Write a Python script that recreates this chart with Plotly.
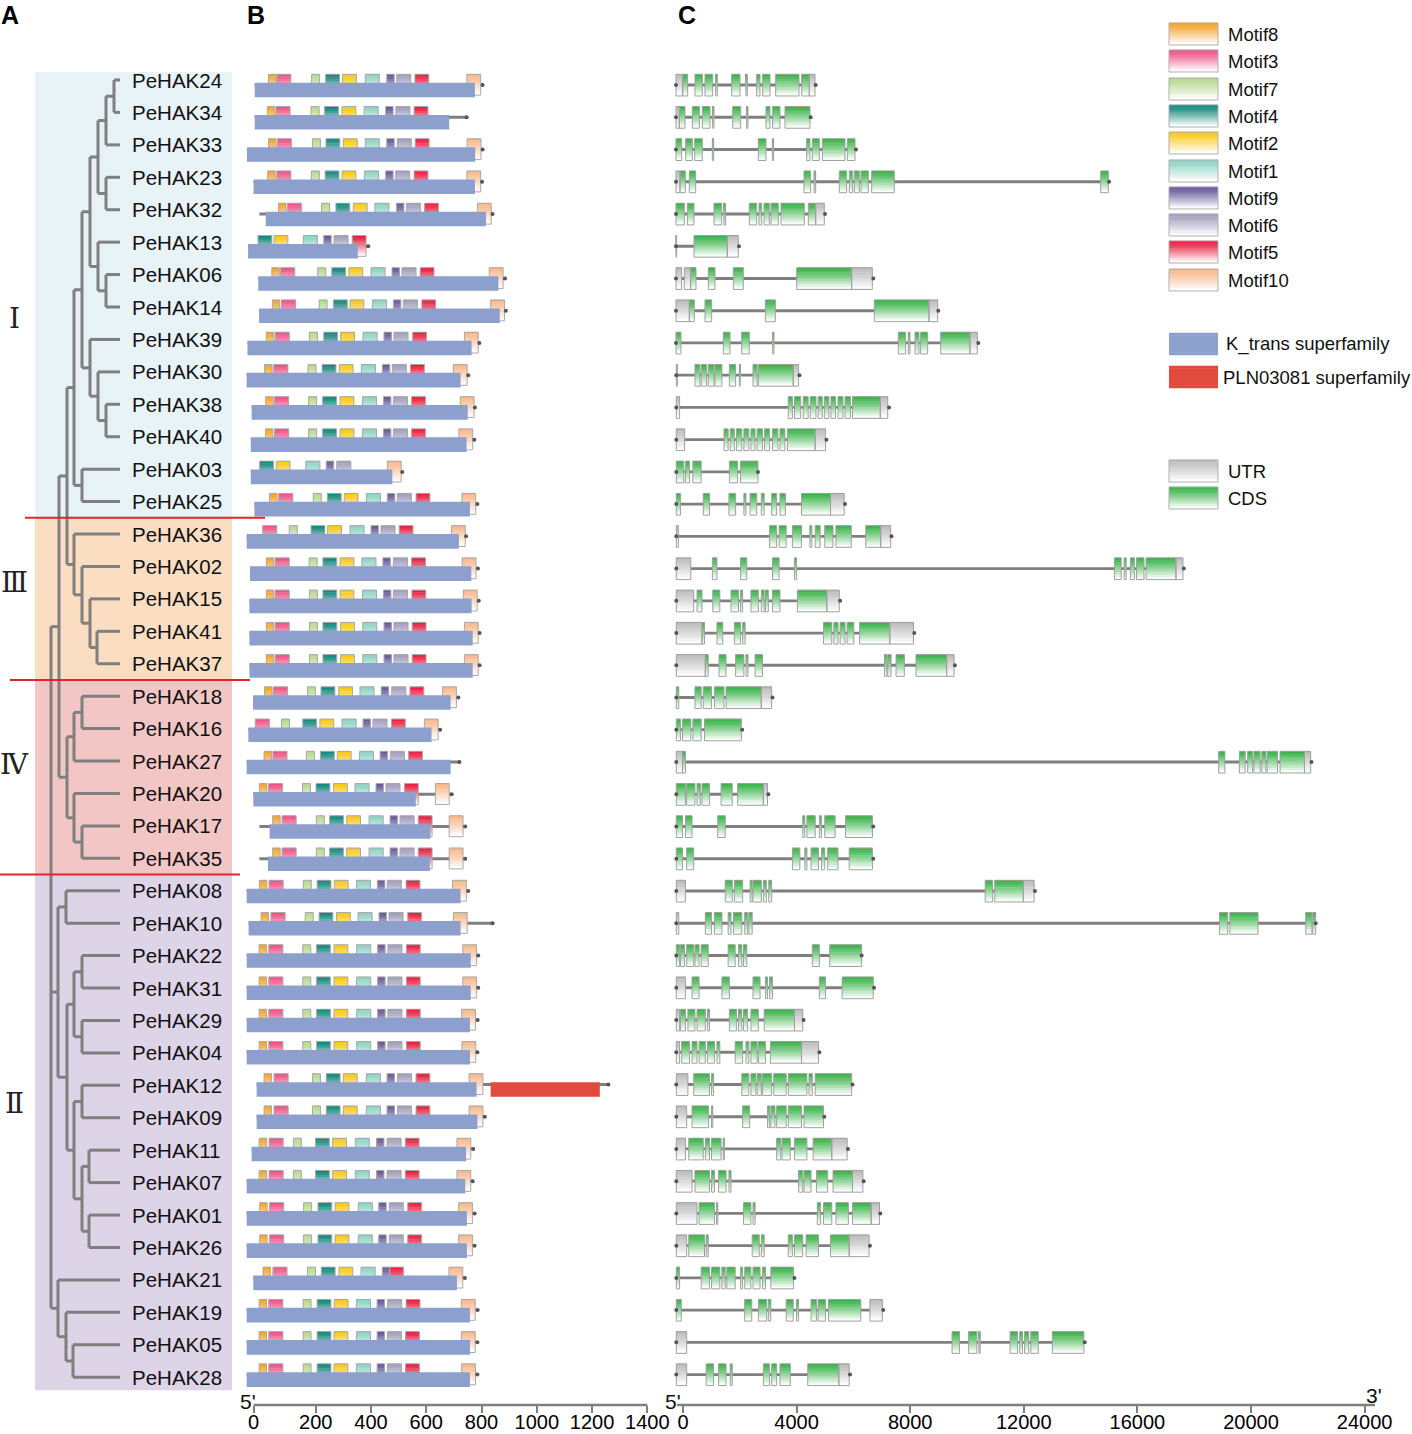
import plotly.graph_objects as go

W, H = 1412, 1434

GENES = ["PeHAK24", "PeHAK34", "PeHAK33", "PeHAK23", "PeHAK32", "PeHAK13", "PeHAK06", "PeHAK14",
         "PeHAK39", "PeHAK30", "PeHAK38", "PeHAK40", "PeHAK03", "PeHAK25", "PeHAK36", "PeHAK02",
         "PeHAK15", "PeHAK41", "PeHAK37", "PeHAK18", "PeHAK16", "PeHAK27", "PeHAK20", "PeHAK17",
         "PeHAK35", "PeHAK08", "PeHAK10", "PeHAK22", "PeHAK31", "PeHAK29", "PeHAK04", "PeHAK12",
         "PeHAK09", "PeHAK11", "PeHAK07", "PeHAK01", "PeHAK26", "PeHAK21", "PeHAK19", "PeHAK05",
         "PeHAK28"]

# ---------------- Panel A : tree ----------------
TIP_X = 120
NODE_NAMES = ["n1", "n2", "n3", "n4", "n5", "n6", "n7", "n8", "n9", "n10", "n11", "n12", "n13",
              "n14", "n15", "n16", "n17", "n18", "n19", "n20", "n21", "n22", "n23", "n24", "n25",
              "n26", "n27", "n28", "n29", "n30", "n31", "n32", "n33", "n34", "n35", "n36", "n37",
              "n38", "root"]
NODE_X = [114, 106, 106, 98, 106, 98, 90, 106, 98, 90, 82, 82, 74,
          97, 90, 82, 74, 67, 82, 74, 82, 74, 67, 59, 66,
          82, 82, 74, 82, 89, 89, 82, 74, 67, 58, 73, 66, 58, 51]
NODE_CHILDREN = [["PeHAK24", "PeHAK34"], ["n1", "PeHAK33"], ["PeHAK23", "PeHAK32"], ["n2", "n3"],
                 ["PeHAK06", "PeHAK14"], ["PeHAK13", "n5"], ["n4", "n6"], ["PeHAK38", "PeHAK40"],
                 ["PeHAK30", "n8"], ["PeHAK39", "n9"], ["n7", "n10"], ["PeHAK03", "PeHAK25"],
                 ["n11", "n12"], ["PeHAK41", "PeHAK37"], ["PeHAK15", "n14"], ["PeHAK02", "n15"],
                 ["PeHAK36", "n16"], ["n13", "n17"], ["PeHAK18", "PeHAK16"], ["n19", "PeHAK27"],
                 ["PeHAK17", "PeHAK35"], ["PeHAK20", "n21"], ["n20", "n22"], ["n18", "n23"],
                 ["PeHAK08", "PeHAK10"], ["PeHAK22", "PeHAK31"], ["PeHAK29", "PeHAK04"], ["n26", "n27"],
                 ["PeHAK12", "PeHAK09"], ["PeHAK11", "PeHAK07"], ["PeHAK01", "PeHAK26"], ["n30", "n31"],
                 ["n29", "n32"], ["n28", "n33"], ["n25", "n34"], ["PeHAK05", "PeHAK28"],
                 ["PeHAK19", "n36"], ["PeHAK21", "n37"], ["n24", "n35", "n38"]]

GROUP_LABELS = ["Ⅰ", "Ⅲ", "Ⅳ", "Ⅱ"]
GROUP_TOP_ROW = [-0.25, 13.5, 18.5, 24.5]
GROUP_BOTTOM_ROW = [13.5, 18.5, 24.5, 40.4]
GROUP_LABEL_ROW = [7.34, 15.48, 21.12, 31.55]
GROUP_COLORS = ["#E7F3F7", "#FBDEC2", "#F3C6C6", "#DDD4E8"]
SEP_ROWS = [13.5, 18.5, 24.5]
SEP_X0 = [25, 10, 0]
SEP_X1 = [265, 250, 240]

# ---------------- Panel B : motifs (aa) ----------------
MOTIF_NAMES = ["Motif8", "Motif3", "Motif7", "Motif4", "Motif2", "Motif1", "Motif9", "Motif6", "Motif5", "Motif10"]
MOTIF_COLORS = ["#F4A42C", "#EC5486", "#B6D98F", "#13877C", "#F9C918", "#8FD3C5", "#66589A", "#A19FBD", "#E81E3E", "#F8B88B"]
MOTIF_WIDTHS = [27, 51, 29, 50, 50, 51, 27, 51, 50, 50]

M8 = [29, 25, 29, 26, 65, None, 41, 43, 21, 15, 19, 18, None, 33, None, 21, 21, 21, 21, 15, None, 13, -4, 44, 44,
      -4, 2, -5, -5, -5, -5, 13, 13, -5, -5, -3, -3, 9, -5, -5, -5]
M3 = [59, 56, 61, 59, 97, None, 73, 76, 53, 48, 51, 51, None, 66, 8, 53, 53, 53, 53, 47, -19, 45, 29, 78, 78,
      31, 38, 30, 30, 30, 30, 49, 49, 31, 31, 33, 33, 45, 30, 30, 30]
M7 = [185, 183, 188, 184, 221, None, 207, 212, 177, 172, 174, 174, None, 191, 104, 176, 177, 177, 177, 170, 76, 166,
      152, 202, 202, 155, 162, 153, 153, 153, 153, 188, 188, 119, 119, 156, 156, 170, 154, 154, 154]
M4 = [236, 232, 237, 234, 273, -9, 258, 264, 229, 223, 225, 225, -3, 242, 183, 226, 226, 226, 226, 219, 153, 217,
      201, 250, 250, 205, 212, 203, 203, 203, 203, 238, 238, 199, 199, 208, 208, 220, 205, 205, 205]
M2 = [297, 295, 300, 295, 336, 49, 320, 324, 290, 285, 288, 288, 57, 303, 243, 288, 288, 290, 290, 283, 215, 278,
      264, 312, 312, 267, 275, 266, 266, 266, 266, 300, 300, 261, 261, 270, 270, 284, 267, 266, 266]
M1 = [379, 375, 379, 376, 414, 155, 400, 405, 371, 365, 369, 369, 164, 383, 324, 367, 369, 370, 370, 360, 295, 358,
      342, 393, 393, 347, 353, 348, 348, 348, 348, 383, 383, 343, 343, 354, 354, 364, 347, 347, 347]
M9 = [457, 453, 457, 453, 492, 229, 476, 481, 447, 441, 445, 445, 238, 459, 400, 443, 445, 447, 447, 437, 371, 433,
      418, 469, 469, 423, 429, 424, 424, 424, 424, 458, 458, 420, 420, 428, 428, 441, 422, 422, 422]
M6 = [493, 490, 495, 489, 528, 266, 512, 517, 483, 477, 481, 481, 276, 495, 436, 481, 481, 483, 483, 475, 407, 470,
      454, 505, 505, 459, 465, 461, 461, 461, 461, 496, 496, 458, 458, 466, 466, None, 460, 459, 459]
M5 = [559, 556, 560, 556, 594, 332, 578, 584, 551, 543, 547, 547, None, 563, 502, 547, 548, 549, 549, 541, 474, 536,
      521, 571, 571, 527, 533, 528, 528, 528, 528, 563, 563, 524, 524, 533, 533, 467, 527, 525, 525]
M10 = [747, None, 748, 747, 785, None, 828, 833, 738, 698, 723, 718, 459, 729, 691, 730, 734, 738, 738, 659, 593, None,
       633, 683, 683, 695, 698, 732, 732, 728, 729, 755, 755, 711, 711, 717, 717, 682, 727, 727, 728]

KT_START = [-21, -21, -49, -25, 19, -45, -8, -5, -47, -50, -32, -35, -35, -22, -50, -38, -40, -40, -40, -27, -44, -50,
            -26, 33, 27, -50, -43, -50, -50, -50, -50, -14, -14, -32, -50, -50, -50, -26, -50, -50, -50]
KT_END = [776, 683, 777, 776, 816, 352, 861, 866, 764, 724, 750, 746, 477, 758, 718, 763, 764, 768, 768, 688, 619, 688,
          562, 615, 613, 724, 724, 761, 761, 758, 758, 782, 785, 744, 741, 747, 747, 711, 758, 758, 758]
PROT_START = [-21, -21, -49, -25, -4, -45, -8, -5, -47, -50, -32, -35, -35, -22, -50, -38, -40, -40, -40, -27, -44, -50,
              -26, -4, -4, -50, -43, -50, -50, -50, -50, -14, -14, -32, -50, -50, -50, -26, -50, -50, -50]
PROT_END = [804, 746, 804, 802, 840, 390, 885, 888, 792, 752, 776, 774, 513, 785, 744, 787, 790, 793, 793, 716, 650, 720,
            692, 741, 741, 752, 840, 788, 788, 786, 785, 1259, 812, 770, 768, 775, 775, 740, 786, 785, 785]
PLN_ROW = [31]
PLN_START = [833]
PLN_END = [1228]

B_TICKS_AT = [-25, 200, 400, 600, 800, 1000, 1200, 1400]
B_TICK_TEXT = ["0", "200", "400", "600", "800", "1000", "1200", "1400"]

# ---------------- Panel C : gene structure (bp) ----------------
GENE_START = [-247, -247, -247, -247, -247, -247, -247, -247, -247, -236, -236, -236, -236, -236, -236, -236,
              -236, -236, -236, -236, -236, -236, -236, -236, -236, -236, -236, -236, -236, -236, -236, -236,
              -236, -236, -236, -236, -236, -236, -236, -236, -236]
GENE_END = [4671, 4495, 6091, 15000, 5000, 1972, 6702, 8990, 10399, 4100, 7254, 5049, 2640, 5706, 7341, 17634,
            5531, 8144, 9575, 3151, 2085, 22131, 3005, 6699, 6699, 12393, 22277, 6290, 6728, 4246, 4801, 5969,
            4976, 5808, 6363, 6947, 6582, 3925, 7050, 14145, 5881]
UTR_EXONS = [
    [(-247, -12), (4448, 4648)],
    [(-247, -129)],
    [],
    [(-247, -106)],
    [(4671, 4976)],
    [(-247, -225), (1561, 1948)],
    [(-247, -47), (47, 270), (5939, 6667)],
    [(-247, 223), (8662, 8967)],
    [(10105, 10363)],
    [(-236, -200), (3881, 4070)],
    [(-236, -119), (6947, 7210)],
    [(-236, 56), (4655, 5020)],
    [],
    [(5195, 5677)],
    [(-236, -163), (6962, 7312)],
    [(-236, 275), (17357, 17605)],
    [(-236, 377), (5064, 5502)],
    [(-236, 669), (7283, 8115)],
    [(-236, 786), (9283, 9546)],
    [(2757, 3122)],
    [],
    [(-236, -17), (21883, 22102)],
    [(2830, 2976)],
    [],
    [],
    [(-236, 85), (11984, 12364)],
    [(-236, -148)],
    [],
    [(-236, 85)],
    [(-236, -119), (3925, 4217)],
    [(-236, -119), (4173, 4772)],
    [(-236, 173)],
    [(-236, 129)],
    [(-236, 85), (5239, 5779)],
    [(-236, 319), (5969, 6334)],
    [(-236, 494), (6626, 6918)],
    [(-236, 129), (5852, 6553)],
    [],
    [(6582, 7020)],
    [(-236, 129)],
    [(-236, 129), (5487, 5852)],
]
CDS_EXONS = [
    [(-12, 164), (422, 681), (775, 1044), (1150, 1209), (1713, 2007), (2218, 2265), (2594, 2711), (2805, 3063), (3263, 4084), (4178, 4448)],
    [(-129, 70), (329, 575), (681, 951), (1044, 1091), (1749, 2030), (2241, 2288), (2922, 3063), (3157, 3415), (3591, 4471)],
    [(-247, -47), (94, 329), (411, 681), (1033, 1080), (2652, 2922), (3145, 3192), (4354, 4471), (4554, 4800), (4906, 5704), (5786, 6056)],
    [(-106, 82), (223, 446), (4260, 4495), (4613, 4671), (5505, 5763), (5857, 5974), (6033, 6209), (6267, 6526), (6643, 7441), (14707, 14977)],
    [(-247, 47), (153, 387), (1091, 1361), (1443, 1502), (2335, 2594), (2676, 2770), (2852, 3040), (3098, 3357), (3450, 4272), (4413, 4671)],
    [(387, 1561)],
    [(270, 458), (892, 1127), (1772, 2124), (4002, 5939)],
    [(223, 399), (775, 1009), (2899, 3251), (6737, 8662)],
    [(-247, -71), (1420, 1655), (2066, 2335), (3157, 3204), (7582, 7840), (7934, 7993), (8169, 8310), (8369, 8615), (9073, 10105)],
    [(421, 596), (640, 830), (888, 1093), (1122, 1370), (1632, 1852), (1983, 2013), (2465, 2611), (2655, 3881)],
    [(3706, 3852), (3925, 4144), (4232, 4407), (4480, 4684), (4757, 4903), (4976, 5137), (5210, 5370), (5458, 5633), (5706, 5896), (5969, 6947)],
    [(1443, 1589), (1662, 1808), (1881, 2071), (2144, 2319), (2392, 2538), (2611, 2801), (2874, 3049), (3151, 3341), (3414, 3589), (3677, 4655)],
    [(-236, 27), (85, 231), (348, 640), (1633, 1925), (2027, 2640)],
    [(-236, -90), (713, 932), (1618, 1852), (2144, 2217), (2363, 2596), (2757, 2859), (3122, 3297), (3414, 3604), (4173, 5195)],
    [(3049, 3297), (3385, 3633), (3852, 4173), (4465, 4538), (4655, 4830), (4991, 5283), (5385, 5925), (6436, 6962)],
    [(1034, 1195), (2027, 2246), (3151, 3385), (3925, 3998), (15196, 15430), (15532, 15605), (15751, 15897), (15970, 16233), (16306, 17357)],
    [(494, 669), (1049, 1297), (1691, 1954), (2027, 2100), (2392, 2655), (2757, 2859), (2903, 3005), (3151, 3414), (4027, 5064)],
    [(669, 757), (1195, 1399), (1808, 2027), (2100, 2188), (4947, 5239), (5312, 5458), (5531, 5706), (5779, 6013), (6217, 7283)],
    [(786, 888), (1268, 1516), (1852, 2144), (2217, 2290), (2538, 2801), (7093, 7181), (7210, 7327), (7502, 7794), (8203, 9283)],
    [(-236, -148), (421, 640), (713, 1005), (1107, 1443), (1516, 2757)],
    [(-236, -90), (-17, 275), (348, 640), (757, 2056)],
    [(-17, 85), (18861, 19080), (19591, 19795), (19883, 20058), (20102, 20321), (20379, 20525), (20569, 20934), (21022, 21883)],
    [(-236, 85), (129, 421), (494, 611), (669, 932), (1341, 1735), (1925, 2830)],
    [(-236, -17), (85, 319), (1224, 1487), (4217, 4290), (4363, 4655), (4801, 4874), (4991, 5356), (5721, 6670)],
    [(-236, -17), (129, 377), (3852, 4115), (4290, 4363), (4509, 4772), (4874, 4991), (5093, 5458), (5852, 6670)],
    [(1487, 1735), (1808, 2100), (2363, 2436), (2465, 2757), (2830, 2932), (3020, 3122), (10641, 10904), (10977, 11984)],
    [(786, 1005), (1107, 1370), (1589, 1691), (1779, 2071), (2173, 2275), (2319, 2436), (18890, 19182), (19255, 20248), (21927, 22146), (22175, 22277)],
    [(-236, -119), (-90, 56), (129, 377), (421, 567), (640, 888), (1589, 1837), (1954, 2071), (2129, 2246), (4553, 4801), (5166, 6290)],
    [(319, 567), (1370, 1633), (2465, 2713), (2903, 2976), (3049, 3151), (4801, 5020), (5604, 6699)],
    [(-90, 85), (173, 421), (494, 786), (859, 932), (1633, 1881), (1954, 2071), (2129, 2275), (2392, 2655), (2859, 3925)],
    [(-46, 231), (319, 494), (567, 786), (859, 1107), (1195, 1297), (1837, 2100), (2217, 2319), (2392, 2611), (2655, 2903), (3078, 4173)],
    [(377, 932), (1005, 1078), (2071, 2319), (2392, 2567), (2611, 2757), (2801, 3122), (3195, 3633), (3706, 4363), (4436, 4553), (4655, 5940)],
    [(319, 903), (1005, 1049), (2100, 2348), (2976, 3049), (3093, 3239), (3297, 3633), (3706, 4173), (4261, 4947)],
    [(202, 713), (786, 932), (1005, 1341), (1414, 1458), (3297, 3443), (3487, 3779), (3925, 4363), (4582, 5239)],
    [(421, 932), (1005, 1107), (1253, 1516), (1618, 1691), (4071, 4217), (4261, 4509), (4699, 5093), (5283, 5969)],
    [(567, 1107), (1180, 1224), (2129, 2392), (2465, 2538), (4728, 4845), (4947, 5239), (5385, 5823), (5969, 6626)],
    [(202, 757), (815, 888), (2436, 2684), (2757, 2859), (3706, 3852), (3925, 4217), (4334, 4772), (5195, 5852)],
    [(-236, -119), (640, 932), (1005, 1297), (1370, 1487), (1545, 1837), (2027, 2100), (2173, 2392), (2465, 2713), (2801, 2903), (3093, 3896)],
    [(-236, -61), (2173, 2421), (2655, 2947), (3005, 3093), (3633, 3881), (3998, 4071), (4509, 4699), (4757, 5020), (5122, 6261)],
    [(9473, 9736), (10057, 10349), (10422, 10466), (11517, 11780), (11853, 11955), (12028, 12174), (12247, 12510), (13006, 14116)],
    [(815, 1078), (1253, 1516), (1662, 1735), (2830, 3049), (3122, 3297), (3414, 3779), (4392, 5487)],
]
C_TICKS = [0, 4000, 8000, 12000, 16000, 20000, 24000]

# ---------------- Legend ----------------
LEGEND_MOTIF_Y = [34, 61, 89, 116, 143, 171, 198, 225, 252, 280]
DOMAIN_NAMES = ["K_trans superfamily", "PLN03081 superfamily"]
DOMAIN_COLORS = ["#8D9FCC", "#E24A3E"]
DOMAIN_Y = [344, 377]
STRUCT_NAMES = ["UTR", "CDS"]
STRUCT_COLORS = ["#BDBDBD", "#3BB44A"]
STRUCT_Y = [471, 498]

# ---------------- geometry ----------------
ROW0 = 80.0
ROW_PX_A = 32.43           # label / tree row spacing
ROW_PX_BC = 32.24          # motif / gene-structure row spacing
B_PX0, B_PXPERAA = 260.5, 0.2763
C_PX0, C_PXPERBP = 683.0, 0.0284
AXIS_PX = 1405
BOX_TOP, BOX_BOT = -0.177, 0.47
KT_TOP, KT_BOT = 0.084, 0.537
EX_TOP, EX_BOT = -0.177, 0.496
LINE_OFF = 0.155
LINE_THICK = 0.09
FONT = "Arial, Liberation Sans, sans-serif"
GREY = "#7F7F7F"


def mix(hexc, f):
    r, g, b = int(hexc[1:3], 16), int(hexc[3:5], 16), int(hexc[5:7], 16)
    r = round(r + (255 - r) * f)
    g = round(g + (255 - g) * f)
    b = round(b + (255 - b) * f)
    return f"rgb({r},{g},{b})"


def grad_boxes(fig, x0s, x1s, tops, bots, colors, xa, ya, nb=9, outline="#A6A6A6", solid=False):
    ys, bs, ls, ws, cs = [], [], [], [], []
    for a, b, t, bt, c in zip(x0s, x1s, tops, bots, colors):
        h = (bt - t) / nb
        for k in range(nb):
            f = 0.0 if solid else (k / (nb - 1)) ** 1.1 * 0.97
            ys.append(t + (k + 0.5) * h)
            bs.append(a)
            ls.append(b - a)
            ws.append(h * 1.2)
            cs.append(mix(c, f))
    fig.add_trace(go.Bar(orientation="h", y=ys, x=ls, base=bs, width=ws,
                         marker=dict(color=cs, line=dict(width=0)),
                         xaxis=xa, yaxis=ya, showlegend=False, hoverinfo="skip"))
    if outline:
        fig.add_trace(go.Bar(orientation="h", y=[(t + bt) / 2 for t, bt in zip(tops, bots)],
                             x=[b - a for a, b in zip(x0s, x1s)], base=list(x0s),
                             width=[bt - t for t, bt in zip(tops, bots)],
                             marker=dict(color="rgba(0,0,0,0)", line=dict(color=outline, width=1)),
                             xaxis=xa, yaxis=ya, showlegend=False, hoverinfo="skip"))


def line_bars(fig, starts, ends, xa, ya):
    n = len(starts)
    fig.add_trace(go.Bar(orientation="h", y=[i + LINE_OFF for i in range(n)],
                         x=[e - s for s, e in zip(starts, ends)], base=list(starts),
                         width=[LINE_THICK] * n, marker=dict(color=GREY, line=dict(width=0)),
                         xaxis=xa, yaxis=ya, showlegend=False, hoverinfo="skip"))


fig = go.Figure()

# ---------- tree ----------
node_x = dict(zip(NODE_NAMES, NODE_X))
node_ch = dict(zip(NODE_NAMES, NODE_CHILDREN))
ypos = {g: i for i, g in enumerate(GENES)}


def get_y(n):
    if n not in ypos:
        ch = node_ch[n]
        ypos[n] = (get_y(ch[0]) + get_y(ch[-1])) / 2
    return ypos[n]


tx, ty = [], []
for n in NODE_NAMES:
    ch = node_ch[n]
    xn = node_x[n]
    tx += [xn, xn, None]
    ty += [get_y(ch[0]), get_y(ch[-1]), None]
    for c in ch:
        cx = node_x.get(c, TIP_X)
        tx += [xn, cx, None]
        ty += [get_y(c), get_y(c), None]
fig.add_trace(go.Scatter(x=tx, y=ty, mode="lines", line=dict(color=GREY, width=3),
                         xaxis="x", yaxis="y", showlegend=False, hoverinfo="skip"))

# ---------- panel B ----------
line_bars(fig, PROT_START, PROT_END, "x2", "y2")

MOTIF_STARTS = [M8, M3, M7, M4, M2, M1, M9, M6, M5, M10]
mx0, mx1, mt, mb, mc = [], [], [], [], []
for starts, wdt, col in zip(MOTIF_STARTS, MOTIF_WIDTHS, MOTIF_COLORS):
    for i, s in enumerate(starts):
        if s is None:
            continue
        mx0.append(s)
        mx1.append(s + wdt)
        mt.append(i + BOX_TOP)
        mb.append(i + BOX_BOT)
        mc.append(col)
grad_boxes(fig, mx0, mx1, mt, mb, mc, "x2", "y2", outline="#A9A9A9")

fig.add_trace(go.Bar(orientation="h", y=[i + (KT_TOP + KT_BOT) / 2 for i in range(len(GENES))],
                     x=[e - s for s, e in zip(KT_START, KT_END)], base=KT_START,
                     width=[KT_BOT - KT_TOP] * len(GENES),
                     marker=dict(color=DOMAIN_COLORS[0], line=dict(width=0)),
                     xaxis="x2", yaxis="y2", showlegend=False, hoverinfo="skip"))
fig.add_trace(go.Bar(orientation="h", y=[r + (KT_TOP + KT_BOT) / 2 for r in PLN_ROW],
                     x=[e - s for s, e in zip(PLN_START, PLN_END)], base=PLN_START,
                     width=[KT_BOT - KT_TOP] * len(PLN_ROW),
                     marker=dict(color=DOMAIN_COLORS[1], line=dict(width=0)),
                     xaxis="x2", yaxis="y2", showlegend=False, hoverinfo="skip"))
fig.add_trace(go.Scatter(x=PROT_END, y=[i + LINE_OFF for i in range(len(GENES))], mode="markers",
                         marker=dict(color="#555555", size=4), xaxis="x2", yaxis="y2",
                         showlegend=False, hoverinfo="skip"))

# ---------- panel C ----------
line_bars(fig, GENE_START, GENE_END, "x3", "y2")

ex0, ex1, et, eb, ec = [], [], [], [], []
for i in range(len(GENES)):
    for (s, e) in UTR_EXONS[i]:
        ex0.append(s); ex1.append(e); et.append(i + EX_TOP); eb.append(i + EX_BOT); ec.append(STRUCT_COLORS[0])
    for (s, e) in CDS_EXONS[i]:
        ex0.append(s); ex1.append(e); et.append(i + EX_TOP); eb.append(i + EX_BOT); ec.append(STRUCT_COLORS[1])
grad_boxes(fig, ex0, ex1, et, eb, ec, "x3", "y2", outline="#A0A0A0")
fig.add_trace(go.Scatter(x=GENE_START + GENE_END, y=[i + LINE_OFF for i in range(len(GENES))] * 2,
                         mode="markers", marker=dict(color="#555555", size=4), xaxis="x3", yaxis="y2",
                         showlegend=False, hoverinfo="skip"))

# ---------- legend (pixel axes) ----------
LX0, LX1 = 1169, 1218
grad_boxes(fig, [LX0] * 10, [LX1] * 10, [y - 11 for y in LEGEND_MOTIF_Y], [y + 11 for y in LEGEND_MOTIF_Y],
           MOTIF_COLORS, "x4", "y4", outline="#B0B0B0")
grad_boxes(fig, [LX0] * 2, [LX1] * 2, [y - 11 for y in DOMAIN_Y], [y + 11 for y in DOMAIN_Y],
           DOMAIN_COLORS, "x4", "y4", outline=None, solid=True)
grad_boxes(fig, [LX0] * 2, [LX1] * 2, [y - 11 for y in STRUCT_Y], [y + 11 for y in STRUCT_Y],
           STRUCT_COLORS, "x4", "y4", outline="#B0B0B0")

ann = []
for name, y in zip(MOTIF_NAMES, LEGEND_MOTIF_Y):
    ann.append(dict(x=1226, y=y, xref="x4", yref="y4", text=name, showarrow=False, xanchor="left",
                    yanchor="middle", font=dict(family=FONT, size=18.5, color="#111111")))
for name, y, xx in zip(DOMAIN_NAMES, DOMAIN_Y, [1224, 1221]):
    ann.append(dict(x=xx, y=y, xref="x4", yref="y4", text=name, showarrow=False, xanchor="left",
                    yanchor="middle", font=dict(family=FONT, size=18.5, color="#111111")))
for name, y in zip(STRUCT_NAMES, STRUCT_Y):
    ann.append(dict(x=1226, y=y, xref="x4", yref="y4", text=name, showarrow=False, xanchor="left",
                    yanchor="middle", font=dict(family=FONT, size=18.5, color="#111111")))

# gene labels
for i, g in enumerate(GENES):
    ann.append(dict(x=130, y=i, xref="x", yref="y", text=g, showarrow=False, xanchor="left",
                    yanchor="middle", font=dict(family=FONT, size=20.5, color="#111111")))
# group labels
for lab, r in zip(GROUP_LABELS, GROUP_LABEL_ROW):
    ann.append(dict(x=14, y=r, xref="x4", yref="y", text=lab, showarrow=False, xanchor="center",
                    yanchor="middle", font=dict(family="DejaVu Serif, Liberation Serif, serif", size=28,
                                                color="#222222")))
# panel letters
for lab, px in zip(["A", "B", "C"], [10, 256, 687]):
    ann.append(dict(x=px, y=15, xref="x4", yref="y4", text=f"<b>{lab}</b>", showarrow=False,
                    xanchor="center", yanchor="middle", font=dict(family=FONT, size=25, color="#000000")))
# 5' / 3'
for lab, px, py in zip(["5'", "5'", "3'"], [248, 673, 1374], [1401, 1401, 1395]):
    ann.append(dict(x=px, y=py, xref="x4", yref="y4", text=lab, showarrow=False,
                    xanchor="center", yanchor="middle", font=dict(family=FONT, size=21, color="#111111")))

# ---------- shapes ----------
shapes = []
for t, b, c in zip(GROUP_TOP_ROW, GROUP_BOTTOM_ROW, GROUP_COLORS):
    shapes.append(dict(type="rect", xref="x4", yref="y", x0=35, x1=232, y0=t, y1=b,
                       fillcolor=c, line=dict(width=0), layer="below"))
for r, a, b in zip(SEP_ROWS, SEP_X0, SEP_X1):
    shapes.append(dict(type="line", xref="x4", yref="y", x0=a, x1=b, y0=r, y1=r,
                       line=dict(color="#E3242B", width=2)))
axis_pos = 1 - AXIS_PX / H
shapes.append(dict(type="line", xref="x2", yref="paper", x0=B_TICKS_AT[0], x1=B_TICKS_AT[-1],
                   y0=axis_pos, y1=axis_pos, line=dict(color=GREY, width=2.5)))
shapes.append(dict(type="line", xref="x3", yref="paper", x0=-211, x1=24366,
                   y0=axis_pos, y1=axis_pos, line=dict(color=GREY, width=2.5)))


# ---------- axes ----------
def px_range(px0, px1, origin, scale):
    return [(px0 - origin) / scale, (px1 - origin) / scale]


b_dom = [240, 665]
c_dom = [668, 1412]
tick_font = dict(family=FONT, size=20, color="#000000")
fig.update_layout(
    width=W, height=H, autosize=False,
    margin=dict(l=0, r=0, t=0, b=0, pad=0),
    paper_bgcolor="white", plot_bgcolor="rgba(0,0,0,0)",
    barmode="overlay", showlegend=False,
    xaxis=dict(domain=[0, 245 / W], range=[0, 245], visible=False, fixedrange=True),
    yaxis=dict(domain=[0, 1], range=[(H - ROW0) / ROW_PX_A, -ROW0 / ROW_PX_A], visible=False),
    xaxis2=dict(domain=[b_dom[0] / W, b_dom[1] / W],
                range=px_range(b_dom[0], b_dom[1], B_PX0, B_PXPERAA),
                anchor="free", position=axis_pos, showgrid=False, zeroline=False, showline=False,
                ticks="outside", ticklen=7, tickwidth=2, tickcolor=GREY, ticklabelstandoff=-8,
                tickmode="array", tickvals=B_TICKS_AT, ticktext=B_TICK_TEXT, tickfont=tick_font,
                automargin=False),
    xaxis3=dict(domain=[c_dom[0] / W, c_dom[1] / W],
                range=px_range(c_dom[0], c_dom[1], C_PX0, C_PXPERBP),
                anchor="free", position=axis_pos, showgrid=False, zeroline=False, showline=False,
                ticks="outside", ticklen=7, tickwidth=2, tickcolor=GREY, ticklabelstandoff=-8,
                tickmode="array", tickvals=C_TICKS, ticktext=[str(t) for t in C_TICKS], tickfont=tick_font,
                automargin=False),
    yaxis2=dict(domain=[0, 1], range=[(H - ROW0) / ROW_PX_BC, -ROW0 / ROW_PX_BC], visible=False),
    xaxis4=dict(domain=[0, 1], range=[0, W], visible=False, anchor="y4"),
    yaxis4=dict(domain=[0, 1], range=[H, 0], visible=False, anchor="x4"),
    annotations=ann, shapes=shapes,
)

fig.write_html(
    "out.html",
    config={"displayModeBar": False},
    post_script="document.body.style.margin='0px';document.body.style.padding='0px';"
                "document.documentElement.style.overflow='hidden';",
)
